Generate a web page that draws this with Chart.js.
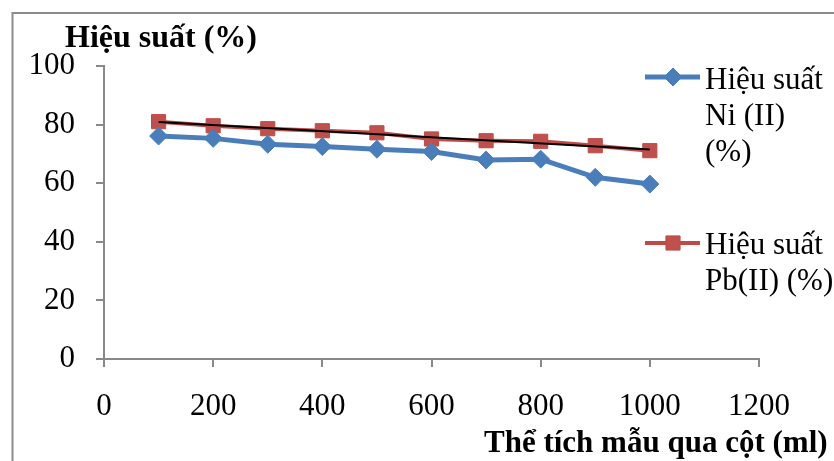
<!DOCTYPE html>
<html>
<head>
<meta charset="utf-8">
<script src="https://cdn.jsdelivr.net/npm/chart.js@4.4.1/dist/chart.umd.min.js"></script>
<style>
  html, body { margin: 0; padding: 0; background: #fff; }
  canvas { display: block; }
</style>
</head>
<body>
<canvas id="chart" width="834" height="461"></canvas>
<script>
// sample volume passed through the column (ml) vs. removal efficiency (%)
const volumes = [100, 200, 300, 400, 500, 600, 700, 800, 900, 1000];
const niYield = [76.1, 75.3, 73.3, 72.5, 71.6, 70.8, 67.9, 68.2, 62.0, 59.7];
const pbYield = [81.0, 79.6, 78.6, 77.9, 77.2, 75.1, 74.5, 74.3, 72.8, 71.1];
// linear trend for Pb(II), end points only
const pbTrendX = [100, 1000];
const pbTrendY = [80.9, 71.5];
const xTicks = [0, 200, 400, 600, 800, 1000, 1200];
const yTicks = [0, 20, 40, 60, 80, 100];

const niLegend = ['Hiệu suất', 'Ni (II)', '(%)'];
const pbLegend = ['Hiệu suất', 'Pb(II) (%)'];
const yTitle = 'Hiệu suất (%)';
const xTitle = 'Thể tích mẫu qua cột (ml)';

const SERIF = '"Liberation Serif", "Times New Roman", serif';
const AXIS_GREY = '#898989';

const toPoints = (xs, ys) => xs.map((x, i) => ({ x, y: ys[i] }));

// frame, free-standing axis titles and the wrapped legend on the right
const decorations = {
    id: 'decorations',
    beforeDraw(chart) {
        const ctx = chart.ctx;
        ctx.save();
        ctx.strokeStyle = '#8c8c8c';
        ctx.lineWidth = 2;
        ctx.beginPath();
        ctx.moveTo(12.5, 470);
        ctx.lineTo(12.5, 13);
        ctx.lineTo(840, 13);
        ctx.stroke();
        ctx.restore();
    },
    afterDraw(chart) {
        const ctx = chart.ctx;
        ctx.save();
        ctx.fillStyle = '#000';
        ctx.textBaseline = 'alphabetic';
        ctx.textAlign = 'left';
        ctx.font = 'bold 32px ' + SERIF;
        ctx.fillText(yTitle, 65, 47);
        ctx.font = 'bold 31px ' + SERIF;
        ctx.fillText(xTitle, 484, 452);

        const entries = [
            { ds: chart.data.datasets[1], lines: niLegend, lineY: 77, baseline: 89 },
            { ds: chart.data.datasets[2], lines: pbLegend, lineY: 243, baseline: 254 }
        ];
        entries.forEach(e => {
            ctx.strokeStyle = e.ds.borderColor;
            ctx.lineWidth = e.ds.borderWidth;
            ctx.beginPath();
            ctx.moveTo(645, e.lineY);
            ctx.lineTo(700, e.lineY);
            ctx.stroke();
            ctx.fillStyle = e.ds.pointBackgroundColor;
            ctx.strokeStyle = e.ds.pointBorderColor;
            ctx.lineWidth = 1;
            Chart.helpers.drawPoint(ctx, {
                pointStyle: e.ds.pointStyle,
                radius: e.ds.pointRadius,
                rotation: 0,
                borderWidth: 1
            }, 673, e.lineY);
            ctx.fillStyle = '#000';
            ctx.font = '31px ' + SERIF;
            e.lines.forEach((t, i) => ctx.fillText(t, 705, e.baseline + i * 36));
        });
        ctx.restore();
    }
};

new Chart(document.getElementById('chart'), {
    type: 'scatter',
    data: {
        datasets: [
            {
                label: 'Trend Pb(II)',
                data: toPoints(pbTrendX, pbTrendY),
                showLine: true,
                borderColor: '#000',
                borderWidth: 2,
                pointRadius: 0,
                order: 0
            },
            {
                label: niLegend.join(' '),
                data: toPoints(volumes, niYield),
                showLine: true,
                borderColor: '#4a7ebb',
                borderWidth: 5,
                pointStyle: 'rectRot',
                pointRadius: 9,
                pointBackgroundColor: '#4a7ebb',
                pointBorderColor: '#4a7ebb',
                pointBorderWidth: 1,
                order: 1
            },
            {
                label: pbLegend.join(' '),
                data: toPoints(volumes, pbYield),
                showLine: true,
                borderColor: '#be4b48',
                borderWidth: 4,
                pointStyle: 'rect',
                pointRadius: 10,
                pointBackgroundColor: '#c0504d',
                pointBorderColor: '#be4b48',
                pointBorderWidth: 1,
                order: 2
            }
        ]
    },
    options: {
        responsive: false,
        animation: false,
        devicePixelRatio: 1,
        layout: { padding: { left: 0, top: 66, right: 75, bottom: 0 } },
        plugins: {
            legend: { display: false },
            title: { display: false },
            tooltip: { enabled: false }
        },
        scales: {
            x: {
                type: 'linear',
                min: 0,
                max: 1200,
                afterBuildTicks: s => { s.ticks = xTicks.map(v => ({ value: v })); },
                afterFit: s => { s.height = 102; },
                grid: { drawOnChartArea: false, tickLength: 8, color: AXIS_GREY, lineWidth: 2 },
                border: { color: AXIS_GREY, width: 2 },
                ticks: {
                    color: '#000',
                    padding: 21,
                    maxRotation: 0,
                    font: { family: SERIF, size: 31 },
                    callback: v => String(v)
                }
            },
            y: {
                type: 'linear',
                min: 0,
                max: 100,
                afterBuildTicks: s => { s.ticks = yTicks.map(v => ({ value: v })); },
                afterFit: s => { s.width = 104; },
                grid: { drawOnChartArea: false, tickLength: 8, color: AXIS_GREY, lineWidth: 2 },
                border: { color: AXIS_GREY, width: 2 },
                ticks: {
                    color: '#000',
                    padding: 21,
                    font: { family: SERIF, size: 31 },
                    callback: v => String(v)
                }
            }
        }
    },
    plugins: [decorations]
});
</script>
</body>
</html>
